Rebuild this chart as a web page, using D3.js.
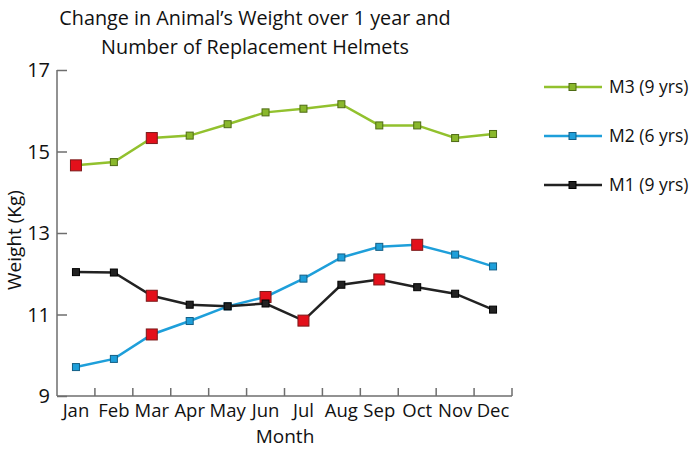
<!DOCTYPE html>
<html><head><meta charset="utf-8">
<script src="https://cdn.jsdelivr.net/npm/d3@7"></script>
<style>body{margin:0;background:#fff}svg{display:block}text{font-family:"Open Sans",sans-serif;fill:#111}</style>
</head><body><svg id="c" width="694" height="450"></svg>
<script>
const months = ["Jan","Feb","Mar","Apr","May","Jun","Jul","Aug","Sep","Oct","Nov","Dec"];
const m3 = [14.66,14.74,15.33,15.39,15.67,15.96,16.05,16.16,15.64,15.64,15.33,15.43];
const m2 = [9.71,9.91,10.51,10.84,11.20,11.43,11.88,12.40,12.66,12.71,12.47,12.18];
const m1 = [12.04,12.03,11.46,11.24,11.20,11.27,10.85,11.73,11.86,11.67,11.51,11.12];
const m3Helmets = ["Jan","Mar"];
const m2Helmets = ["Mar","Jun","Oct"];
const m1Helmets = ["Mar","Jul","Sep"];
const yTicks = [9,11,13,15,17];
const seriesNames = ["M3 (9 yrs)","M2 (6 yrs)","M1 (9 yrs)"];
const titleLines = ["Change in Animal\u2019s Weight over 1 year and","Number of Replacement Helmets"];

const series = [
  {name:seriesNames[0], values:m3, helmets:m3Helmets, line:"#92c12e", fill:"#8ab82c", stroke:"#4e6b14"},
  {name:seriesNames[1], values:m2, helmets:m2Helmets, line:"#1e9fda", fill:"#1e9fda", stroke:"#135f86"},
  {name:seriesNames[2], values:m1, helmets:m1Helmets, line:"#222222", fill:"#222222", stroke:"#000000"}
];

const svg = d3.select("#c");
const x = d3.scaleBand().domain(months).range([57,512]);
const y = d3.scaleLinear().domain([9,17]).range([396,70]);
const axisColor = "#6e6e6e";

// title
svg.append("g").selectAll("text").data(titleLines).join("text")
  .attr("x",255).attr("y",(d,i)=>25+i*29).attr("text-anchor","middle")
  .style("font-size","19.8px").text(d=>d);

// axes
const ya = svg.append("g").attr("transform","translate(57,0)")
  .call(d3.axisRight(y).tickValues(yTicks).tickSize(10).tickFormat(""));
ya.select(".domain").attr("stroke",axisColor).attr("stroke-width",1.5).attr("d","M0,70V396");
ya.selectAll(".tick line").attr("stroke",axisColor).attr("stroke-width",1.5);
svg.append("g").selectAll("text").data(yTicks).join("text")
  .attr("x",50).attr("y",d=>y(d)).attr("dy","0.36em").attr("text-anchor","end")
  .style("font-size","20px").text(d=>d);

const bounds = months.map(m=>x(m)).concat([x.range()[1]]);
const xa = svg.append("g");
xa.append("path").attr("d",`M57,396H512`).attr("stroke",axisColor).attr("stroke-width",1.5).attr("fill","none");
xa.selectAll("line").data(bounds.slice(1)).join("line")
  .attr("x1",d=>d).attr("x2",d=>d).attr("y1",396).attr("y2",388)
  .attr("stroke",axisColor).attr("stroke-width",1.5);
xa.selectAll("text").data(months).join("text")
  .attr("x",d=>x(d)+x.bandwidth()/2).attr("y",417).attr("text-anchor","middle")
  .style("font-size","18.5px").text(d=>d);

svg.append("text").attr("x",285).attr("y",443).attr("text-anchor","middle").style("font-size","19px").text("Month");
svg.append("text").attr("transform","translate(21,240) rotate(-90)").attr("text-anchor","middle").style("font-size","19px").text("Weight (Kg)");

// lines
const line = d3.line().x((d,i)=>x(months[i])+x.bandwidth()/2).y(d=>y(d));
series.forEach(s=>{
  svg.append("path").datum(s.values).attr("d",line).attr("fill","none")
    .attr("stroke",s.line).attr("stroke-width",2.5);
});
series.forEach(s=>{
  const g = svg.append("g");
  g.selectAll("rect").data(s.values.map((v,i)=>({v,m:months[i],red:s.helmets.includes(months[i])})))
    .join("rect")
    .attr("x",d=>x(d.m)+x.bandwidth()/2-(d.red?5.5:3.5))
    .attr("y",d=>y(d.v)-(d.red?5.5:3.5))
    .attr("width",d=>d.red?11:7).attr("height",d=>d.red?11:7)
    .attr("fill",d=>d.red?"#e3101b":s.fill)
    .attr("stroke",d=>d.red?"#7a1a1a":s.stroke).attr("stroke-width",1);
});

// legend
const lg = svg.append("g").selectAll("g").data(series).join("g")
  .attr("transform",(d,i)=>`translate(0,${87+i*49})`);
lg.append("line").attr("x1",544).attr("x2",602).attr("stroke",d=>d.line).attr("stroke-width",2.5);
lg.append("rect").attr("x",569).attr("y",-3.5).attr("width",7).attr("height",7)
  .attr("fill",d=>d.fill).attr("stroke",d=>d.stroke).attr("stroke-width",1);
lg.append("text").attr("x",609).attr("dy","0.36em").style("font-size","17.5px").text(d=>d.name);
</script></body></html>
